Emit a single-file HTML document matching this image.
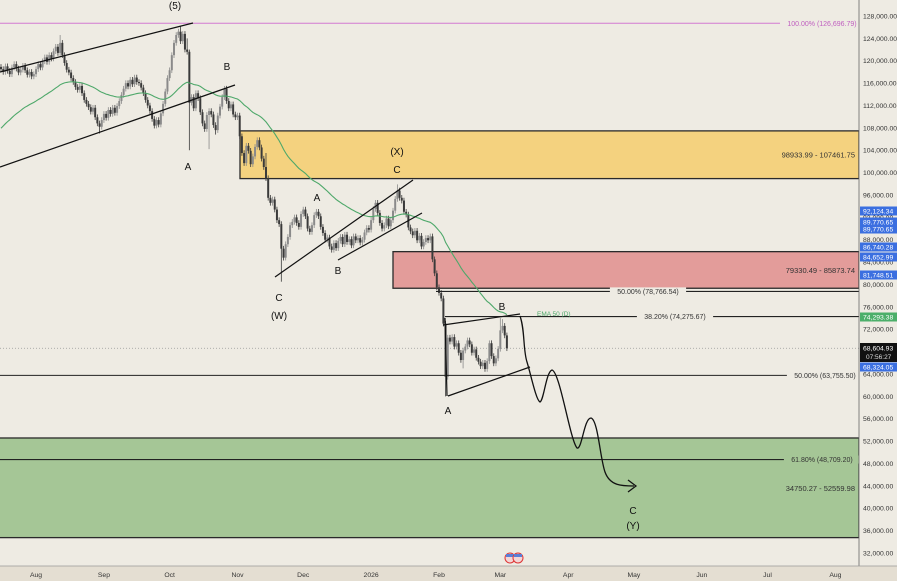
<!DOCTYPE html>
<html><head><meta charset="utf-8">
<style>
html,body{margin:0;padding:0;background:#eeebe3;}
#wrap{position:relative;width:897px;height:581px;overflow:hidden;font-family:"Liberation Sans",sans-serif;}
svg text{font-family:"Liberation Sans",sans-serif;}
</style></head>
<body>
<div id="wrap">
<svg id="chart" width="897" height="581">
<rect x="0" y="0" width="897" height="581" fill="#eeebe3"/>
<g id="zones"></g>
<g id="candles"></g>
<g id="overlay"></g>
<g id="axes"></g>
</svg>
</div>
<script>
// ---- data ----
const closes = [118.5,118.0,119.0,118.2,117.6,118.8,119.4,118.6,117.9,118.4,119.1,118.3,117.5,118.0,117.2,117.6,
118.5,119.4,118.8,119.9,120.6,119.8,121.0,120.4,121.7,122.5,121.4,123.2,121.0,
119.6,118.4,117.9,116.9,
116.2,115.3,114.8,115.5,114.2,113.0,112.3,111.7,
110.9,111.6,109.9,108.8,108.2,
109.4,110.5,109.8,111.2,
110.5,111.6,110.7,111.9,
112.8,113.9,115.0,116.0,
115.4,116.6,115.8,117.0,116.2,116.0,
115.2,114.2,113.0,112.0,111.0,109.6,108.4,109.4,
108.6,110.6,112.3,114.5,116.9,118.3,
121.0,123.2,124.6,125.2,
123.5,124.8,122.0,121.6,112.5,
113.5,111.5,114.2,113.3,110.8,108.8,
107.8,110.3,111.0,110.4,
108.5,107.6,
110.2,111.8,113.5,115.0,
112.8,111.5,112.2,110.4,109.9,110.2,
106.5,103.5,
101.7,104.8,103.9,101.5,102.9,104.6,105.8,
104.5,102.5,101.0,99.0,
95.5,94.6,95.2,93.4,91.5,90.8,
86.4,84.8,
87.2,88.5,90.6,91.2,
92.0,91.0,90.3,
92.6,93.4,92.2,90.0,89.4,
90.6,92.4,93.0,92.2,
90.3,89.2,88.0,88.4,86.8,86.2,87.4,86.5,
87.8,88.5,87.2,88.9,87.6,88.1,87.0,88.6,87.9,88.3,87.5,88.0,
89.3,90.1,89.8,91.5,
93.5,94.6,92.8,91.0,90.0,90.6,
91.8,90.4,91.5,93.2,95.3,96.8,
95.5,95.0,93.0,92.5,90.2,89.5,
88.8,89.6,87.9,88.7,86.8,87.6,88.3,87.9,88.6,
84.5,82.0,79.5,78.5,
77.5,73.0,63.5,70.5,
69.8,70.6,68.9,69.5,67.8,66.5,68.2,
68.9,70.0,69.3,67.8,68.4,66.9,66.2,65.4,66.0,64.9,66.3,
69.5,67.2,65.9,66.8,68.5,71.8,72.6,70.9,68.605];
const firstOpen = 118.9;
const wickHigh = {27:124.6,82:126.2,85:124.0,86:122.0,121:103.5,181:97.9,228:74.0,229:73.8};
const wickLow = {86:104.0,95:104.2,128:80.5,203:60.0,98:106.8,45:107.0,211:65.0};
const emaSeed = 107.5;
const priceTicks = [128,124,120,116,112,108,104,100,96,92,88,84,80,76,72,68,64,60,56,52,48,44,40,36,32];
const timeLabels = ["Aug","Sep","Oct","Nov","Dec","2026","Feb","Mar","Apr","May","Jun","Jul","Aug"];
const timeDays = [16,47,77,108,138,169,200,228,259,289,320,350,381];
const zoneLow = [98933.99,79330.49,34750.27];
const zoneHigh = [107461.75,85873.74,52559.98];
const fibLevels = [126696.79,78766.54,74275.67,63755.50,48709.20];
const fibPct = ["100.00%","50.00%","38.20%","50.00%","61.80%"];
const tagValues = ["92,124.34","89,770.65","89,770.65","86,740.28","84,652.99","81,748.51"];
const tagY = [211,222,229,247,257,275];

// ---- scales ----
const PLOT_R = 859;
function y(p){ return 16 + (128000 - p) * 0.0055937; }
function yk(k){ return y(k*1000); }
function xd(d){ return d * 2.19; }
const NS = "http://www.w3.org/2000/svg";
function mk(tag, attrs, parent){ const e=document.createElementNS(NS,tag); for(const k in attrs) e.setAttribute(k,attrs[k]); parent.appendChild(e); return e; }
const zones=document.getElementById('zones'), cg=document.getElementById('candles'), ov=document.getElementById('overlay'), ax=document.getElementById('axes');

// zones
const zoneX=[240,393,-2], zoneFill=["#f4d27f","#e39c9a","#a5c696"], zoneNames=["resistance-zone-yellow","resistance-zone-red","target-zone-green"];
for(let i=0;i<3;i++){
  const r=mk('rect',{x:zoneX[i],y:y(zoneHigh[i]),width:PLOT_R-zoneX[i],height:y(zoneLow[i])-y(zoneHigh[i]),fill:zoneFill[i],stroke:"#2a2a2a","stroke-width":1.3},zones);
  
  
  const t=mk('text',{x:855,y:(y(zoneLow[i])+y(zoneHigh[i]))/2+3,"font-size":"7.5","text-anchor":"end",fill:"#333"},zones);
  t.textContent = zoneLow[i].toFixed(2)+" - "+zoneHigh[i].toFixed(2);
  
  
}
// current price dotted
const cur = closes[closes.length-1]*1000;
const dl=mk('line',{x1:0,x2:PLOT_R,y1:y(cur),y2:y(cur),stroke:"#999","stroke-dasharray":"1,2","stroke-width":0.8},zones);



// fib lines
const fibX1=[0,436,445,0,0], fibLabelX=[822,648,675,825,822];
for(let i=0;i<fibLevels.length;i++){
  const yy=y(fibLevels[i]);
  const col = i===0 ? "#d27ad2" : "#222";
  const l=mk('line',{x1:fibX1[i],x2:PLOT_R,y1:yy,y2:yy,stroke:col,"stroke-width":i===0?1:1.1},ov);
  
  
  const s = fibPct[i]+" ("+fibLevels[i].toLocaleString('en-US',{minimumFractionDigits:2,maximumFractionDigits:2})+")";
  const tw = s.length*3.9+6;
  const bg=mk('rect',{x:fibLabelX[i]-tw/2,y:yy-4,width:tw,height:8,fill:i===4?"#a5c696":"#eeebe3"},ov);
  
  
  const t=mk('text',{x:fibLabelX[i],y:yy+2.7,"font-size":"7","text-anchor":"middle",fill:i===0?"#c060c0":"#333"},ov);
  t.textContent=s;
  
  
}

// candles
let prev = firstOpen;
for(let i=0;i<closes.length;i++){
  const o=prev, c=closes[i];
  const hi = wickHigh[i]!==undefined ? wickHigh[i] : Math.max(o,c)+0.5;
  const lo = wickLow[i]!==undefined ? wickLow[i] : Math.min(o,c)-0.5;
  const cx = xd(i)+1;
  const up = c>=o;
  const col = up ? "#8a8a8a" : "#3a3a3a";
  const w=mk('line',{x1:cx,x2:cx,y1:yk(hi),y2:yk(lo),stroke:col,"stroke-width":0.8},cg);
  
  
  const top=yk(Math.max(o,c)), bot=yk(Math.min(o,c));
  const b=mk('rect',{x:cx-1,y:top,width:2,height:Math.max(0.8,bot-top),fill:col},cg);
  
  
  prev=c;
}
// EMA 50
let ema=emaSeed, pts=[];
const a=2/51;
for(let i=0;i<closes.length;i++){ ema = closes[i]*a + ema*(1-a); pts.push((xd(i)+1).toFixed(1)+","+yk(ema).toFixed(1)); }
const ep=mk('polyline',{points:pts.join(" "),fill:"none",stroke:"#4ea86a","stroke-width":1.1},ov);


const et=mk('text',{x:537,y:316,"font-size":"6.5",fill:"#4ea86a"},ov);
et.textContent="EMA 50 (D)";



// drawings
const segs=[[0,72,193,23],[0,167,235,85],[275,277,413,180],[338,260,422,213],[443,325,520,314],[448,396,530,367],[445,318,447,396]];
for(const s of segs){
  const l=mk('line',{x1:s[0],y1:s[1],x2:s[2],y2:s[3],stroke:"#111","stroke-width":1.2},ov);
  
  
}
const proj=mk('path',{d:"M520,316 C525,330 523,350 527,362 C531,375 536,400 540,402 C544,400 546,372 552,370 C560,372 570,440 577,448 C582,450 584,418 591,418 C598,420 600,458 605,472 C610,486 622,486 634,486",fill:"none",stroke:"#111","stroke-width":1.3},ov);


const ah=mk('path',{d:"M628,480 L636,486 L628,492",fill:"none",stroke:"#111","stroke-width":1.3},ov);



const waveLabels=[["(5)",175,9],["B",227,70],["A",188,170],["(X)",397,155],["C",397,173],["A",317,201],["B",338,274],["C",279,301],["(W)",279,319],["B",502,310],["A",448,414],["C",633,514],["(Y)",633,529]];
for(const w of waveLabels){
  const t=mk('text',{x:w[1],y:w[2],"font-size":"10","text-anchor":"middle",fill:"#111"},ov);
  t.textContent=w[0];
  
  
}

// axes
const pa=mk('rect',{x:PLOT_R,y:0,width:38,height:581,fill:"#eeebe3"},ax);


const pl=mk('line',{x1:PLOT_R,x2:PLOT_R,y1:0,y2:566,stroke:"#666","stroke-width":0.8},ax);


for(const p of priceTicks){
  const t=mk('text',{x:863,y:yk(p)+2.5,"font-size":"6.8",fill:"#333"},ax);
  t.textContent=p.toLocaleString('en-US')+",000.00";
  
  
}
function tag(txt,yy,bg,fg,h,name){
  const r=mk('rect',{x:PLOT_R+1,y:yy-h/2,width:37,height:h,fill:bg},ax);
  
  
  const t=mk('text',{x:863,y:yy+2.5,"font-size":"6.8",fill:fg},ax);
  t.textContent=txt;
  
  
}
for(let i=0;i<tagValues.length;i++) tag(tagValues[i],tagY[i],"#3b6fe0","#fff",9,'price-tag');
tag("74,293.38",317,"#4caf6a","#fff",9,'ema-price-tag');
const bt=mk('rect',{x:PLOT_R+1,y:343,width:37,height:19,fill:"#111"},ax);


const t1=mk('text',{x:863,y:350.5,"font-size":"6.8",fill:"#fff"},ax); t1.textContent="68,604.93";


const t2=mk('text',{x:866,y:359,"font-size":"6.5",fill:"#ddd"},ax); t2.textContent="07:56:27";


tag("68,324.05",367,"#3b6fe0","#fff",9,'price-tag');

const ta=mk('rect',{x:0,y:566,width:897,height:15,fill:"#e4ded2"},ax);


const tl=mk('line',{x1:0,x2:897,y1:566,y2:566,stroke:"#999","stroke-width":0.8},ax);


for(let i=0;i<timeLabels.length;i++){
  const t=mk('text',{x:xd(timeDays[i])+1,y:577,"font-size":"6.8","text-anchor":"middle",fill:"#333"},ax);
  t.textContent=timeLabels[i];
  
  
}
// event flags
for(const fx of [510,518]){
  const c=mk('circle',{cx:fx,cy:558,r:5,fill:"#f3d6d6",stroke:"#d33","stroke-width":1},ax);
  
  
  const c2=mk('rect',{x:fx-4,y:554,width:8,height:3,fill:"#5b7fd6"},ax);
  
  
}
</script>
</body></html>
